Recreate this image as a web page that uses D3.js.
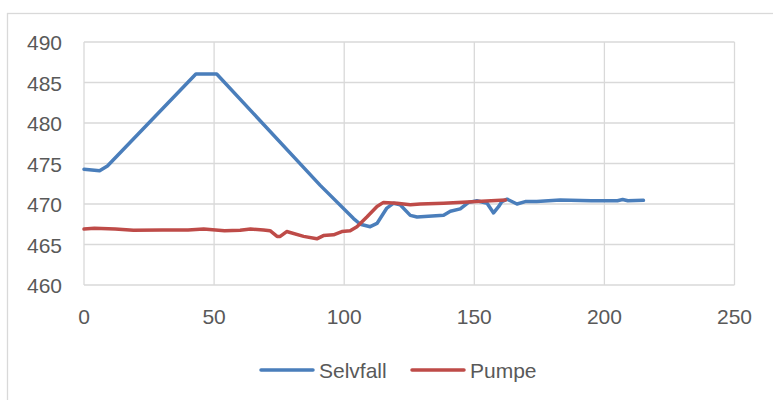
<!DOCTYPE html>
<html>
<head>
<meta charset="utf-8">
<script src="https://cdn.jsdelivr.net/npm/d3@7"></script>
<style>
  body { margin: 0; background: white; }
  text { font-family: "Liberation Sans", Arial, sans-serif; fill: #595959; }
</style>
</head>
<body>
<div id="container"></div>
<script>
/* DATA */
const selvfallX = [0, 6, 9, 43, 51, 90.8, 103.6, 106.2, 110, 112.6, 116.4, 119, 121.5, 125.4, 128, 138.2, 140.8, 144.6, 147.8, 151, 154.9, 157.4, 159.4, 160.6, 162.6, 166.4, 169.6, 174, 183, 195, 205, 207, 209, 215];
const selvfallY = [474.3, 474.1, 474.7, 486.05, 486.05, 472.3, 468.2, 467.5, 467.2, 467.6, 469.5, 470.1, 469.9, 468.6, 468.4, 468.6, 469.1, 469.4, 470.2, 470.4, 470.1, 468.9, 469.7, 470.3, 470.6, 470.0, 470.3, 470.3, 470.5, 470.4, 470.4, 470.55, 470.4, 470.45];

const pumpeX = [0, 4, 12, 19, 30, 40, 46, 54, 60, 64, 69, 71.5, 74.2, 75.4, 77.9, 84.4, 89.5, 92, 95.9, 99.1, 102.3, 104.9, 108.7, 112.6, 115.1, 120.3, 125.4, 129.2, 138.2, 151, 162];
const pumpeY = [466.9, 467.0, 466.9, 466.75, 466.8, 466.8, 466.9, 466.7, 466.75, 466.9, 466.8, 466.7, 466.0, 466.0, 466.6, 466.0, 465.7, 466.1, 466.2, 466.6, 466.7, 467.2, 468.4, 469.7, 470.2, 470.1, 469.9, 470.0, 470.1, 470.3, 470.5];

const seriesNames = ["Selvfall", "Pumpe"];
const seriesColors = ["#4a7ebb", "#be4b48"];
const xTicks = [0, 50, 100, 150, 200, 250];
const yTicks = [460, 465, 470, 475, 480, 485, 490];

/* CONSTANTS */
const width = 773, height = 400;

const svg = d3.select("#container")
  .append("svg")
  .attr("width", width)
  .attr("height", height);

// outer chart border (runs off right and bottom)
svg.append("rect")
  .attr("x", 7.5).attr("y", 13.5)
  .attr("width", 800).attr("height", 420)
  .attr("fill", "white")
  .attr("stroke", "#d9d9d9")
  .attr("stroke-width", 1.3);

/* SCALES */
const xScale = d3.scaleLinear().domain([0, 250]).range([84, 734.5]);
const yScale = d3.scaleLinear().domain([460, 490]).range([285, 42]);

// gridlines
svg.append("g")
  .selectAll("line.h")
  .data(yTicks)
  .enter().append("line")
  .attr("x1", xScale(0)).attr("x2", xScale(250))
  .attr("y1", d => yScale(d)).attr("y2", d => yScale(d))
  .attr("stroke", "#d9d9d9").attr("stroke-width", 1.3);

svg.append("g")
  .selectAll("line.v")
  .data(xTicks)
  .enter().append("line")
  .attr("x1", d => xScale(d)).attr("x2", d => xScale(d))
  .attr("y1", yScale(490)).attr("y2", yScale(460))
  .attr("stroke", "#d9d9d9").attr("stroke-width", 1.3);

// tick labels
svg.append("g")
  .selectAll("text")
  .data(yTicks)
  .enter().append("text")
  .attr("x", 62)
  .attr("y", d => yScale(d) + 8)
  .attr("text-anchor", "end")
  .style("font-size", "21px")
  .text(d => d);

svg.append("g")
  .selectAll("text")
  .data(xTicks)
  .enter().append("text")
  .attr("x", d => xScale(d))
  .attr("y", 324)
  .attr("text-anchor", "middle")
  .style("font-size", "21px")
  .text(d => d);

/* LINES */
const line = d3.line()
  .x(d => xScale(d[0]))
  .y(d => yScale(d[1]));

const series = [
  d3.zip(selvfallX, selvfallY),
  d3.zip(pumpeX, pumpeY)
];

// draw Selvfall first, Pumpe on top
series.forEach((s, i) => {
  svg.append("path")
    .datum(s)
    .attr("fill", "none")
    .attr("stroke", seriesColors[i])
    .attr("stroke-width", 3.5)
    .attr("stroke-linejoin", "round")
    .attr("stroke-linecap", "round")
    .attr("d", line);
});

/* LEGEND */
const legendX = [261, 412];
seriesNames.forEach((name, i) => {
  svg.append("line")
    .attr("x1", legendX[i]).attr("x2", legendX[i] + 52)
    .attr("y1", 370).attr("y2", 370)
    .attr("stroke", seriesColors[i])
    .attr("stroke-width", 3.5)
    .attr("stroke-linecap", "round");
  svg.append("text")
    .attr("x", legendX[i] + 58)
    .attr("y", 377.5)
    .style("font-size", "21px")
    .text(name);
});
</script>
</body>
</html>
